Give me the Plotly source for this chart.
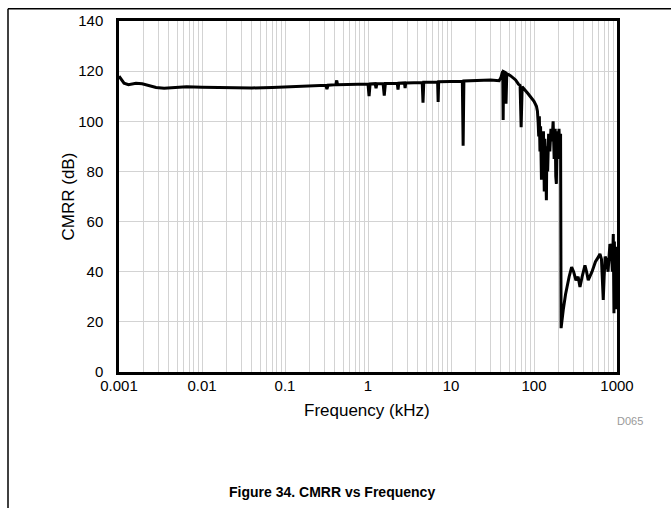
import plotly.graph_objects as go

# ---- data ----
freq_khz = [
    0.001, 0.00105, 0.00115, 0.0013, 0.0016, 0.0019, 0.0023, 0.0028, 0.0035, 0.005,
    0.0065, 0.01, 0.02, 0.04, 0.07, 0.1, 0.15, 0.24, 0.31, 0.32,
    0.33, 0.41, 0.42, 0.43, 0.7, 1.0, 1.03, 1.06, 1.22, 1.25,
    1.28, 1.52, 1.57, 1.62, 2.25, 2.3, 2.35, 2.75, 2.8, 2.85,
    4.5, 4.6, 4.7, 6.9, 7.0, 7.1, 13.7, 14.0, 14.3, 22,
    30, 38, 40, 42, 42.5, 43, 45, 46, 47, 52,
    60, 65, 68, 70, 72, 85, 100, 107, 110, 112,
    114, 116, 118, 120, 123, 125, 127, 130, 133, 135,
    138, 141, 143, 146, 150, 155, 160, 165, 170, 175,
    180, 183, 186, 190, 195, 200, 205, 209, 210, 211,
    212, 225, 240, 265, 284, 300, 320, 340, 358, 380,
    411, 430, 450, 500, 550, 600, 623, 650, 683, 700,
    720, 750, 780, 822, 850, 880, 902, 919, 930, 960,
    975,
]
cmrr_db = [
    118.0, 117.0, 115.2, 114.6, 115.2, 115.0, 114.3, 113.5, 113.2, 113.4,
    113.8, 113.6, 113.4, 113.3, 113.5, 113.7, 114.0, 114.3, 114.4, 112.8,
    114.4, 114.6, 116.3, 114.6, 114.8, 114.9, 110.0, 114.9, 115.0, 113.2,
    115.0, 115.0, 110.2, 115.1, 115.2, 112.7, 115.2, 115.3, 113.2, 115.3,
    115.5, 107.4, 115.6, 115.7, 107.7, 115.8, 116.0, 90.3, 116.1, 116.4,
    116.5, 116.2, 117.5, 120.0, 100.5, 119.8, 119.5, 107.0, 119.0, 118.2,
    116.5, 114.8, 114.3, 97.6, 113.8, 111.0, 108.0, 106.0, 104.0, 100.0,
    94.0, 102.0, 88.0, 98.0, 76.7, 95.0, 80.0, 96.0, 72.0, 93.0,
    85.0, 68.5, 90.0, 80.0, 95.0, 88.0, 97.0, 92.0, 100.0, 85.0,
    97.0, 78.0, 75.0, 96.0, 85.0, 97.0, 88.0, 95.0, 80.0, 40.0,
    17.5, 24.7, 31.0, 38.0, 41.8, 40.0, 36.6, 38.0, 33.9, 38.0,
    42.5, 40.0, 36.6, 40.0, 44.0, 46.0, 47.1, 45.0, 28.7, 38.0,
    46.0, 44.5, 40.0, 51.0, 50.0, 40.0, 55.0, 23.4, 52.0, 25.0,
    50.0,
]

x_tick_vals = [m * 10 ** e for e in range(-3, 3) for m in range(1, 10)] + [1000]
x_major = {0.001: "0.001", 0.01: "0.01", 0.1: "0.1", 1: "1", 10: "10", 100: "100", 1000: "1000"}
y_tick_vals = [0, 20, 40, 60, 80, 100, 120, 140]

x_tick_text = []
for v in x_tick_vals:
    lab = ""
    for k, t in x_major.items():
        if abs(v - k) < k * 1e-6:
            lab = t
    x_tick_text.append(lab)

FONT = "Liberation Sans, Arial, sans-serif"

fig = go.Figure()
fig.add_trace(go.Scatter(
    x=freq_khz, y=cmrr_db, mode="lines",
    line=dict(color="black", width=3),
    showlegend=False,
))

# plot area in pixels: left 119, right 617, top 17.5, bottom 372.5
L, R, T, B = 119, 617, 17.5, 372.5
W, H = 671, 508

def px(xp):
    return (xp - L) / (R - L)

def py(yp):
    return (B - yp) / (B - T)

fig.update_layout(
    width=W, height=H,
    margin=dict(l=L, r=W - R, t=T, b=H - B, pad=0),
    paper_bgcolor="white", plot_bgcolor="white",
    font=dict(family=FONT, size=15, color="black"),
    xaxis=dict(
        type="log", range=[-3, 3],
        tickvals=x_tick_vals, ticktext=x_tick_text,
        showgrid=True, gridcolor="#d3d3d3", gridwidth=1,
        showline=True, linecolor="black", linewidth=2.5, mirror=True,
        ticks="", ticklabelstandoff=-2,
        tickfont=dict(size=15, family=FONT, color="black"),
        zeroline=False,
    ),
    yaxis=dict(
        range=[0, 140], tickvals=y_tick_vals,
        showgrid=True, gridcolor="#d3d3d3", gridwidth=1,
        showline=True, linecolor="black", linewidth=2.5, mirror=True,
        ticks="", ticklabelstandoff=10,
        tickfont=dict(size=15, family=FONT, color="black"),
        zeroline=False,
    ),
    shapes=[
        dict(type="line", xref="paper", yref="paper", x0=px(8), x1=px(8), y0=py(5), y1=py(510),
             line=dict(color="black", width=1.5)),
        dict(type="line", xref="paper", yref="paper", x0=px(8), x1=px(672), y0=py(5), y1=py(5),
             line=dict(color="black", width=1.5)),
    ],
    annotations=[
        dict(text="Frequency (kHz)", xref="paper", yref="paper", x=px(367), y=py(411),
             showarrow=False, xanchor="center", yanchor="middle",
             font=dict(size=17, family=FONT, color="black")),
        dict(text="CMRR (dB)", xref="paper", yref="paper", x=px(68), y=py(195),
             showarrow=False, xanchor="center", yanchor="middle", textangle=-90,
             font=dict(size=17, family=FONT, color="black")),
        dict(text="D065", xref="paper", yref="paper", x=px(630), y=py(422),
             showarrow=False, xanchor="center", yanchor="middle",
             font=dict(size=11, family=FONT, color="#999999")),
        dict(text="<b>Figure 34. CMRR vs Frequency</b>", xref="paper", yref="paper",
             x=px(332), y=py(494), showarrow=False, xanchor="center", yanchor="middle",
             font=dict(size=14, family=FONT, color="black")),
    ],
)

fig.write_html("out.html")
